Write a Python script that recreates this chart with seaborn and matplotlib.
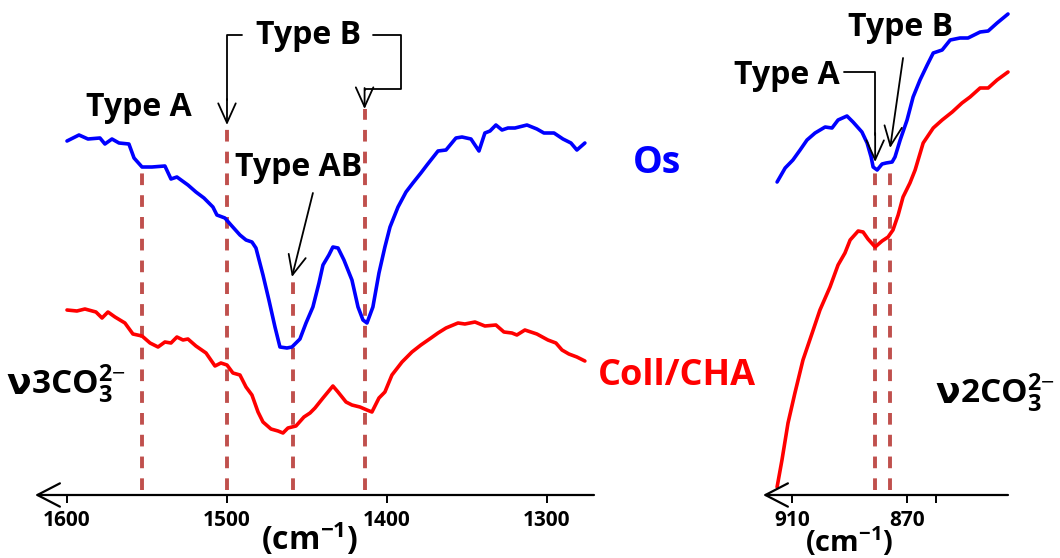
import matplotlib
matplotlib.use("Agg")
import matplotlib.pyplot as plt
import seaborn as sns

# ---- nu3 carbonate region (cm-1, absorbance a.u.) ----
v3_os_wn = [1600, 1592.5, 1586.9, 1579.4, 1576.3, 1571.9, 1567.5, 1561.3, 1558.1, 1553.1,
            1546.9, 1538.8, 1535.0, 1531.3, 1524.4, 1519.4, 1514.4, 1508.8, 1506.3, 1501.3,
            1497.5, 1491.9, 1488.1, 1484.4, 1481.9, 1477.5, 1473.8, 1470.0, 1466.9, 1462.5,
            1459.4, 1454.4, 1450.6, 1446.3, 1442.5, 1440.0, 1436.3, 1433.8, 1430.6, 1426.9,
            1421.9, 1418.1, 1415.0, 1412.5, 1408.8, 1405.0, 1401.3, 1398.1, 1393.1, 1388.1,
            1383.8, 1378.8, 1375.0, 1368.1, 1363.1, 1356.9, 1353.1, 1347.5, 1342.5, 1338.8,
            1335.6, 1331.9, 1328.1, 1324.4, 1320.0, 1312.5, 1306.3, 1301.9, 1295.6, 1290.0,
            1285.0, 1281.3, 1276.3]
v3_os_abs = [3.54, 3.60, 3.56, 3.57, 3.51, 3.56, 3.52, 3.51, 3.37, 3.28,
             3.28, 3.29, 3.16, 3.18, 3.10, 3.03, 2.97, 2.88, 2.80, 2.77,
             2.70, 2.60, 2.55, 2.53, 2.47, 2.20, 1.95, 1.68, 1.48, 1.47,
             1.48, 1.56, 1.72, 1.88, 2.12, 2.30, 2.40, 2.48, 2.47, 2.35,
             2.15, 1.88, 1.75, 1.72, 1.88, 2.22, 2.48, 2.68, 2.88, 3.03,
             3.12, 3.22, 3.30, 3.44, 3.45, 3.57, 3.58, 3.56, 3.44, 3.62,
             3.64, 3.70, 3.65, 3.67, 3.67, 3.70, 3.66, 3.62, 3.62, 3.56,
             3.52, 3.45, 3.52]

v3_coll_wn = [1600, 1593.8, 1588.8, 1581.9, 1578.1, 1574.4, 1570.0, 1563.8, 1558.8, 1553.1,
              1548.1, 1543.1, 1538.8, 1535.0, 1531.3, 1527.5, 1524.4, 1519.4, 1513.1, 1507.5,
              1503.8, 1500.0, 1496.3, 1491.9, 1488.1, 1484.4, 1480.6, 1477.5, 1472.5, 1468.1,
              1465.0, 1461.9, 1456.9, 1451.9, 1448.1, 1445.0, 1440.0, 1433.8, 1430.6, 1425.6,
              1421.9, 1416.9, 1412.5, 1409.4, 1405.0, 1401.3, 1396.9, 1390.6, 1384.4, 1378.8,
              1372.5, 1368.1, 1363.1, 1355.6, 1351.3, 1345.0, 1338.8, 1331.9, 1326.9, 1321.9,
              1318.8, 1313.8, 1306.3, 1299.4, 1294.4, 1290.6, 1286.3, 1281.3, 1276.3]
v3_coll_abs = [1.85, 1.84, 1.86, 1.83, 1.77, 1.83, 1.78, 1.72, 1.61, 1.59,
               1.52, 1.48, 1.53, 1.52, 1.58, 1.55, 1.56, 1.49, 1.42, 1.29,
               1.32, 1.30, 1.22, 1.20, 1.08, 1.00, 0.83, 0.73, 0.66, 0.64,
               0.62, 0.67, 0.69, 0.78, 0.82, 0.87, 0.97, 1.09, 1.03, 0.93,
               0.90, 0.88, 0.85, 0.83, 0.97, 1.03, 1.20, 1.33, 1.43, 1.50,
               1.57, 1.62, 1.67, 1.72, 1.71, 1.73, 1.69, 1.70, 1.63, 1.62,
               1.60, 1.65, 1.61, 1.55, 1.52, 1.45, 1.41, 1.38, 1.34]

# ---- nu2 carbonate region ----
v2_os_wn = [915.2, 912.4, 909.7, 907.2, 904.8, 902.0, 898.5, 896.1, 894.0, 890.9,
            888.8, 885.7, 883.9, 882.5, 881.8, 880.4, 878.7, 877.3, 875.2, 874.2,
            872.4, 870.0, 867.9, 865.5, 863.0, 860.9, 857.8, 855.0, 851.6, 848.8,
            844.6, 841.8, 838.7, 834.9]
v2_os_abs = [3.13, 3.27, 3.35, 3.45, 3.55, 3.62, 3.68, 3.67, 3.75, 3.79,
             3.73, 3.63, 3.52, 3.38, 3.28, 3.25, 3.31, 3.32, 3.33, 3.38,
             3.55, 3.75, 3.98, 4.15, 4.30, 4.42, 4.45, 4.55, 4.57, 4.57,
             4.63, 4.64, 4.72, 4.81]

v2_coll_wn = [915.2, 913.5, 911.4, 909.0, 906.2, 903.0, 900.3, 896.8, 894.0, 891.6,
              889.8, 887.0, 885.3, 883.6, 881.1, 878.7, 876.6, 874.9, 873.1, 871.4,
              869.0, 867.2, 864.4, 860.9, 857.8, 854.3, 850.9, 848.1, 844.6, 841.8,
              838.7, 834.9]
v2_coll_abs = [0.08, 0.35, 0.72, 1.02, 1.35, 1.62, 1.85, 2.08, 2.30, 2.42,
               2.55, 2.64, 2.63, 2.56, 2.48, 2.54, 2.58, 2.65, 2.80, 2.98,
               3.12, 3.25, 3.52, 3.67, 3.75, 3.83, 3.92, 3.98, 4.07, 4.07,
               4.15, 4.23]

# band positions and the tops of their marker lines
v3_band_wn = [1553, 1500, 1459, 1414]
v3_band_top = [3.28, 3.70, 2.17, 3.86]
v2_band_wn = [881, 876]
v2_band_top = [3.27, 3.23]

v3_ticks = [1600, 1500, 1400, 1300]
v3_tick_labels = ["1600", "1500", "1400", "1300"]
v2_ticks = [910, 870, 860]
v2_tick_labels = ["910", "870", ""]

BLUE = "#0000FF"
RED = "#FF0000"
BAND = "#C0504D"
FONT = "Open Sans"

sns.set_theme(style="white")
plt.rcParams["font.family"] = [FONT, "DejaVu Sans"]
plt.rcParams["mathtext.fontset"] = "custom"
plt.rcParams["mathtext.rm"] = FONT
plt.rcParams["mathtext.bf"] = FONT + ":bold"
plt.rcParams["mathtext.it"] = FONT + ":italic"

W, H = 1060, 558
fig = plt.figure(figsize=(W / 100, H / 100), dpi=100)
fig.patch.set_facecolor("white")


def px_axes(x0, x1, y_top, y_bot):
    return fig.add_axes([x0 / W, 1 - y_bot / H, (x1 - x0) / W, (y_bot - y_top) / H])


def fig_text(x, y, s, **kw):
    fig.text(x / W, 1 - y / H, s, **kw)


ax1 = px_axes(35, 594, 0, 495)
ax2 = px_axes(763, 1008, 0, 495)
ax1.set_xlim(1620, 1270.6)
ax2.set_xlim(920.1, 834.9)

for ax, ticks, labels in [(ax1, v3_ticks, v3_tick_labels), (ax2, v2_ticks, v2_tick_labels)]:
    ax.set_ylim(0, 4.95)
    ax.set_facecolor("none")
    for s in ax.spines.values():
        s.set_visible(False)
    ax.set_yticks([])
    ax.set_xticks(ticks)
    ax.set_xticklabels(labels, fontsize=15, fontweight="bold", color="black")
    ax.tick_params(axis="x", direction="out", length=6, width=1.4, pad=5,
                   color="black", bottom=True)
    # x axis drawn as a line with an open arrow head pointing to higher wavenumbers
    ax.annotate("", xy=(0, 0), xytext=(1, 0), xycoords=("axes fraction", "data"),
                arrowprops=dict(arrowstyle="->,head_length=1.35,head_width=0.7",
                                lw=1.6, color="black", shrinkA=0, shrinkB=0),
                annotation_clip=False)
    ax.set_xlabel("")
    ax.set_ylabel("")

# band marker lines
dash = (0, (3.0, 2.6))
ax1.vlines(v3_band_wn, 0.05, v3_band_top, colors=BAND, lw=2.8, linestyles=[dash])
ax2.vlines(v2_band_wn, 0.05, v2_band_top, colors=BAND, lw=2.8, linestyles=[dash])

# spectra
sns.lineplot(x=v3_os_wn, y=v3_os_abs, ax=ax1, color=BLUE, lw=2.6, sort=False, estimator=None)
sns.lineplot(x=v3_coll_wn, y=v3_coll_abs, ax=ax1, color=RED, lw=2.6, sort=False, estimator=None)
sns.lineplot(x=v2_os_wn, y=v2_os_abs, ax=ax2, color=BLUE, lw=2.6, sort=False, estimator=None)
sns.lineplot(x=v2_coll_wn, y=v2_coll_abs, ax=ax2, color=RED, lw=2.6, sort=False, estimator=None)
for ax in (ax1, ax2):
    for ln in ax.get_lines():
        ln.set_clip_on(False)

arrow_kw = dict(arrowstyle="->,head_length=1.0,head_width=0.45", lw=1.3, color="black",
                shrinkA=0, shrinkB=0, mutation_scale=14)
lab_kw = dict(fontsize=23, fontweight="bold", color="black")

# --- nu3 annotations ---
ax1.text(1555, 3.88, "Type A", ha="center", va="center", **lab_kw)
ax1.text(1449, 4.60, "Type B", ha="center", va="center", **lab_kw)
ax1.plot([1490.6, 1500, 1500], [4.60, 4.60, 3.95], color="black", lw=1.3)
ax1.annotate("", xy=(1500, 3.70), xytext=(1500, 3.96), arrowprops=arrow_kw)
ax1.plot([1408.8, 1391.3, 1391.3, 1414, 1414], [4.60, 4.60, 4.06, 4.06, 4.05],
         color="black", lw=1.3)
ax1.annotate("", xy=(1414, 3.86), xytext=(1414, 4.07), arrowprops=arrow_kw)
ax1.text(1455.0, 3.27, "Type AB", ha="center", va="center", **lab_kw)
ax1.annotate("", xy=(1459.4, 2.18), xytext=(1446.3, 3.02), arrowprops=arrow_kw)

# --- nu2 annotations ---
ax2.text(893.5, 4.20, "Type A", ha="right", va="center", **lab_kw)
ax2.plot([892.0, 881.1, 881.1], [4.23, 4.23, 3.6], color="black", lw=1.3)
ax2.annotate("", xy=(881.1, 3.33), xytext=(881.1, 3.62), arrowprops=arrow_kw)
ax2.text(872.1, 4.67, "Type B", ha="center", va="center", **lab_kw)
ax2.annotate("", xy=(875.9, 3.47), xytext=(871.4, 4.37), arrowprops=arrow_kw)

# series names
fig_text(657, 163, "Os", ha="center", va="center", fontsize=27, fontweight="bold", color=BLUE)
fig_text(677, 376, "Coll/CHA", ha="center", va="center", fontsize=26, fontweight="bold", color=RED)

# band assignments
fig_text(31, 394, "\u03bd", ha="right", va="baseline", fontsize=26,
         family=["DejaVu Sans"], fontweight="bold", color="black")
fig_text(31, 394, r"$\mathbf{3CO_3^{2\mathrm{-}}}$", ha="left", va="baseline", fontsize=24,
         color="black")
fig_text(960, 403, "\u03bd", ha="right", va="baseline", fontsize=26,
         family=["DejaVu Sans"], fontweight="bold", color="black")
fig_text(960, 403, r"$\mathbf{2CO_3^{2\mathrm{-}}}$", ha="left", va="baseline", fontsize=24,
         color="black")

# axis titles
fig_text(310, 550, r"$\mathbf{(cm^{-1})}$", ha="center", va="baseline", fontsize=23, color="black")
fig_text(849, 552, r"$\mathbf{(cm^{-1})}$", ha="center", va="baseline", fontsize=21, color="black")

fig.savefig("out.png", dpi=100, facecolor="white")
